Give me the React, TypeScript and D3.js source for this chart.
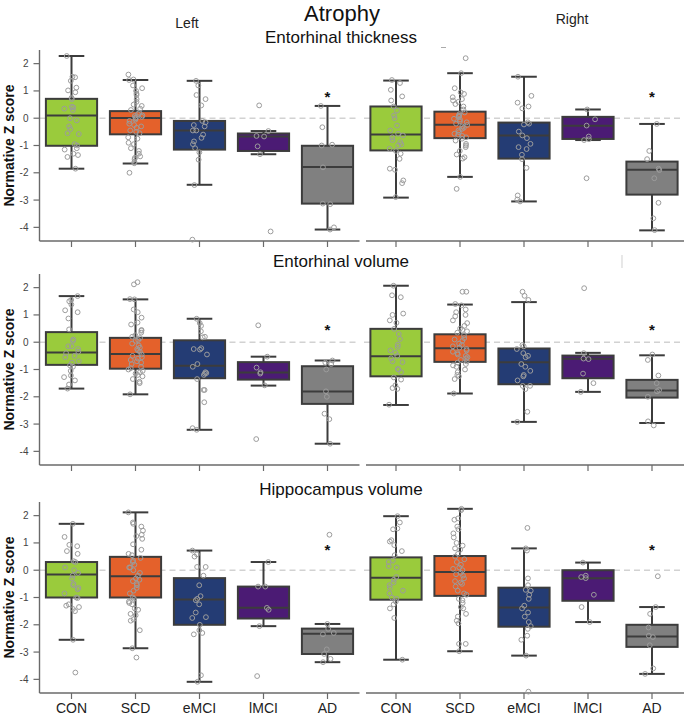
import React from 'react';
import * as d3 from 'd3';

const groups = ['CON', 'SCD', 'eMCI', 'lMCI', 'AD'];
const groupColors = ['#9acb3c', '#e4612b', '#243c74', '#4b1b74', '#808080'];
const yTicks = [-4, -3, -2, -1, 0, 1, 2];
const regionTitles = ['Entorhinal thickness', 'Entorhinal volume', 'Hippocampus volume'];

// box stats per group: [whisker low, q1, median, q3, whisker high]
const thickLeftStats = [
  [-1.85, -1.01, 0.10, 0.71, 2.28],
  [-1.66, -0.59, 0.01, 0.26, 1.40],
  [-2.44, -1.15, -0.45, -0.10, 1.37],
  [-1.32, -1.20, -0.67, -0.56, -0.47],
  [-4.08, -3.13, -1.79, -1.01, 0.45],
];
const thickRightStats = [
  [-2.91, -1.18, -0.60, 0.43, 1.38],
  [-2.15, -0.73, -0.24, 0.24, 1.65],
  [-3.05, -1.48, -0.63, -0.16, 1.52],
  [-0.80, -0.76, -0.28, 0.05, 0.32],
  [-4.11, -2.80, -1.89, -1.59, -0.21],
];
const volLeftStats = [
  [-1.70, -0.83, -0.38, 0.37, 1.69],
  [-1.91, -0.97, -0.43, 0.16, 1.57],
  [-3.21, -1.32, -0.86, 0.07, 0.86],
  [-1.59, -1.37, -1.11, -0.73, -0.53],
  [-3.72, -2.26, -1.81, -0.88, -0.67],
];
const volRightStats = [
  [-2.30, -1.25, -0.51, 0.49, 2.07],
  [-1.88, -0.72, -0.22, 0.29, 1.38],
  [-2.92, -1.54, -0.73, -0.23, 1.47],
  [-1.82, -1.32, -0.61, -0.49, -0.39],
  [-2.96, -2.03, -1.77, -1.38, -0.48],
];
const hippLeftStats = [
  [-2.55, -1.00, -0.16, 0.30, 1.70],
  [-2.86, -1.00, -0.22, 0.49, 2.12],
  [-4.09, -2.00, -1.07, -0.29, 0.72],
  [-2.05, -1.77, -1.38, -0.60, 0.30],
  [-3.37, -3.07, -2.33, -2.14, -1.97],
];
const hippRightStats = [
  [-3.28, -1.08, -0.28, 0.47, 1.98],
  [-2.97, -0.94, -0.07, 0.52, 2.25],
  [-3.13, -2.07, -1.37, -0.64, 0.80],
  [-1.90, -1.12, -0.29, 0.00, 0.28],
  [-3.80, -2.81, -2.43, -2.00, -1.35],
];

// individual subjects per group
const thickLeftPts = [
  [2.28, 1.50, 1.52, 1.37, 1.02, 1.12, 0.95, 0.75, 0.70, 0.42, 0.35, 0.30, 0.40, 0.00, -0.08, -0.30, -0.40, -0.55, -0.58, -0.95, -1.00, -1.10, -1.15, -1.30, -1.35, -1.42, -1.85],
  [1.60, 1.40, 1.42, 1.20, 1.10, 1.00, 0.85, 0.90, 0.70, 0.60, 0.50, 0.45, 0.35, 0.30, 0.20, 0.15, 0.10, 0.08, 0.05, 0.02, 0.00, -0.05, -0.10, -0.20, -0.25, -0.30, -0.35, -0.45, -0.50, -0.55, -0.70, -0.75, -0.90, -0.95, -1.10, -1.20, -1.30, -1.40, -1.45, -1.50, -1.60, -1.65, -2.00],
  [1.37, 1.20, 0.85, 0.70, 0.47, -0.15, -0.10, -0.25, -0.30, -0.45, -0.45, -0.60, -0.72, -0.85, -0.95, -1.10, -1.25, -1.52, -2.45, -4.45],
  [0.47, -0.47, -0.67, -0.65, -1.03, -1.32, -4.15],
  [0.45, -0.33, -1.00, -0.97, -1.80, -3.13, -3.15, -4.00, -4.08],
];
const thickRightPts = [
  [1.40, 1.29, 1.04, 0.80, 0.65, 0.43, 0.28, 0.10, 0.00, -0.27, -0.45, -0.57, -0.63, -0.70, -0.80, -0.88, -0.96, -1.00, -1.12, -1.20, -1.30, -1.49, -1.85, -1.89, -2.28, -2.38, -2.89],
  [2.20, 1.65, 1.10, 0.95, 0.89, 0.77, 0.70, 0.65, 0.60, 0.52, 0.43, 0.32, 0.21, 0.15, 0.10, 0.08, 0.05, -0.02, -0.05, -0.12, -0.15, -0.20, -0.25, -0.30, -0.35, -0.39, -0.45, -0.51, -0.57, -0.60, -0.65, -0.70, -0.75, -0.82, -0.94, -1.00, -1.06, -1.20, -1.33, -1.43, -1.48, -2.15, -2.59],
  [1.52, 0.82, 0.57, 0.43, 0.36, -0.15, -0.20, -0.23, -0.49, -0.63, -0.73, -0.94, -1.06, -1.13, -1.34, -1.50, -1.82, -2.83, -2.98, -3.05],
  [0.32, -0.04, -0.27, -0.67, -0.77, -0.80, -2.20],
  [-0.21, -1.20, -1.50, -1.85, -1.90, -2.20, -3.10, -3.67, -4.10],
];
const volLeftPts = [
  [1.69, 1.55, 1.50, 1.38, 1.17, 1.10, 0.87, 0.47, 0.10, 0.05, -0.15, -0.15, -0.25, -0.35, -0.40, -0.50, -0.55, -0.70, -0.75, -0.85, -0.90, -1.05, -1.22, -1.28, -1.40, -1.55, -1.70],
  [2.20, 2.12, 1.57, 1.58, 1.20, 1.10, 0.90, 0.72, 0.65, 0.45, 0.42, 0.35, 0.25, 0.20, 0.15, 0.08, 0.05, -0.05, -0.12, -0.20, -0.25, -0.30, -0.35, -0.45, -0.50, -0.55, -0.60, -0.65, -0.70, -0.75, -0.80, -0.90, -0.95, -1.00, -1.05, -1.10, -1.15, -1.20, -1.25, -1.35, -1.45, -1.50, -1.91],
  [0.86, 0.70, 0.60, 0.40, 0.20, 0.18, -0.25, -0.22, -0.27, -0.45, -0.80, -0.90, -1.10, -1.13, -1.15, -1.20, -1.35, -1.75, -1.75, -2.20, -3.15, -3.21],
  [0.62, -0.53, -0.93, -1.10, -1.15, -1.58, -3.55],
  [-0.67, -0.75, -0.80, -1.00, -1.80, -2.00, -2.62, -2.82, -3.72],
];
const volRightPts = [
  [2.07, 1.72, 1.65, 1.05, 1.00, 0.80, 0.71, 0.49, 0.30, 0.12, -0.09, -0.17, -0.30, -0.39, -0.50, -0.59, -0.70, -0.73, -0.98, -1.00, -1.10, -1.29, -1.37, -1.58, -1.68, -1.71, -2.29],
  [1.85, 1.85, 1.40, 1.35, 1.20, 1.10, 1.00, 0.95, 0.80, 0.70, 0.60, 0.50, 0.45, 0.40, 0.35, 0.25, 0.15, 0.10, 0.05, -0.05, -0.10, -0.15, -0.20, -0.25, -0.30, -0.35, -0.40, -0.45, -0.50, -0.55, -0.60, -0.65, -0.70, -0.75, -0.80, -0.85, -0.90, -1.00, -1.10, -1.20, -1.25, -1.35, -1.88],
  [1.85, 1.70, 1.55, -0.10, -0.15, -0.25, -0.40, -0.50, -0.55, -0.80, -0.90, -1.05, -1.20, -1.25, -1.40, -1.60, -1.60, -1.72, -2.55, -2.92],
  [1.98, -0.40, -0.60, -0.62, -1.15, -1.50, -1.82],
  [-0.45, -0.65, -1.22, -1.50, -1.75, -1.80, -2.00, -2.90, -3.05],
];
const hippLeftPts = [
  [1.70, 1.22, 0.93, 0.88, 0.70, 0.60, 0.33, 0.30, 0.10, 0.00, -0.10, -0.20, -0.30, -0.50, -0.55, -0.65, -0.70, -0.85, -1.00, -1.02, -1.25, -1.30, -1.35, -1.42, -1.50, -2.55, -3.75],
  [2.12, 1.75, 1.70, 1.60, 1.45, 1.30, 1.25, 1.15, 0.95, 0.75, 0.60, 0.55, 0.45, 0.35, 0.30, 0.20, 0.10, 0.10, 0.00, -0.10, -0.20, -0.30, -0.35, -0.40, -0.50, -0.55, -0.65, -0.75, -0.85, -1.00, -1.05, -1.15, -1.20, -1.25, -1.45, -1.60, -1.65, -1.80, -1.85, -2.20, -2.86, -3.20, -1.40],
  [0.72, 0.58, 0.50, 0.12, 0.12, -0.20, -0.55, -0.95, -1.05, -1.10, -1.25, -1.55, -1.72, -1.75, -2.00, -2.20, -2.30, -2.35, -3.85, -4.09],
  [0.30, -0.60, -0.60, -1.38, -1.45, -2.05, -3.88],
  [1.30, -1.97, -2.15, -2.30, -2.35, -2.90, -3.07, -3.25, -3.37],
];
const hippRightPts = [
  [1.98, 1.75, 1.53, 1.50, 1.10, 1.05, 0.92, 0.70, 0.55, 0.35, 0.30, 0.15, 0.10, -0.25, -0.35, -0.45, -0.55, -0.65, -0.75, -0.85, -1.00, -1.05, -1.15, -1.25, -1.40, -1.75, -3.28],
  [2.25, 2.20, 1.90, 1.85, 1.60, 1.50, 1.35, 1.20, 1.00, 0.90, 0.80, 0.75, 0.60, 0.50, 0.40, 0.30, 0.20, 0.10, 0.05, 0.00, -0.10, -0.15, -0.20, -0.30, -0.40, -0.45, -0.50, -0.60, -0.75, -0.85, -0.90, -1.05, -1.10, -1.20, -1.35, -1.40, -1.60, -1.70, -1.85, -1.95, -2.70, -2.70, -2.97],
  [1.55, 0.80, 0.72, -0.30, -0.55, -0.72, -0.75, -0.90, -1.05, -1.30, -1.40, -1.55, -1.70, -1.90, -2.05, -2.15, -2.40, -2.55, -3.13, -4.45],
  [0.28, -0.20, -0.25, -0.29, -0.90, -1.35, -1.90],
  [-0.22, -1.35, -1.60, -2.10, -2.40, -2.45, -2.75, -3.60, -3.80],
];

// height of the significance star above AD, per row
const starLevels = [0.9, 0.55, 0.85];

const font = '"Liberation Sans", Arial, sans-serif';
const panelH = 191;
const rowTops = [50, 274, 502];
const leftRange: [number, number] = [39.5, 359.5];
const rightRange: [number, number] = [364, 684];

const jitter = (i: number, k: number) => {
  const s = Math.sin(i * 12.9898 + k * 78.233) * 43758.5453;
  return (s - Math.floor(s) - 0.5) * 15;
};

type PanelProps = {
  range: [number, number];
  top: number;
  stats: number[][];
  pts: number[][];
  star: number;
  showY: boolean;
  showLabels: boolean;
  seed: number;
};

const Panel = ({ range, top, stats, pts, star, showY, showLabels, seed }: PanelProps) => {
  const x = d3.scaleBand().domain(groups).range(range);
  const y = d3.scaleLinear().domain([-4.5, 2.5]).range([top + panelH, top]);
  const bw = x.bandwidth() * 0.8;
  const axisColor = '#6a6a6a';
  const edge = '#3c3c3c';
  return (
    <g>
      <line x1={range[0]} x2={range[1]} y1={y(0)} y2={y(0)} stroke="#d2d2d2" strokeWidth={1.6} strokeDasharray="6,4" />
      {showY && (
        <g>
          <line x1={range[0]} x2={range[0]} y1={top} y2={top + panelH} stroke={axisColor} strokeWidth={1.4} />
          {yTicks.map(t => (
            <g key={t}>
              <line x1={range[0] - 6} x2={range[0]} y1={y(t)} y2={y(t)} stroke={axisColor} strokeWidth={1.2} />
              <text x={range[0] - 11} y={y(t) + 3.5} textAnchor="end" fontSize={10} fill="#444" fontFamily={font}>{t < 0 ? '-' + Math.abs(t) : t}</text>
            </g>
          ))}
        </g>
      )}
      <line x1={showY ? range[0] : range[0] + 2} x2={range[1]} y1={top + panelH} y2={top + panelH} stroke={axisColor} strokeWidth={1.4} />
      {groups.map(g => (
        <line key={g} x1={x(g)! + x.bandwidth() / 2} x2={x(g)! + x.bandwidth() / 2} y1={top + panelH} y2={top + panelH + 6} stroke={axisColor} strokeWidth={1.2} />
      ))}
      {showLabels && groups.map(g => (
        <text key={g} x={x(g)! + x.bandwidth() / 2} y={713} textAnchor="middle" fontSize={14} fill="#222" fontFamily={font}>{g}</text>
      ))}
      {groups.map((g, k) => {
        const [lo, q1, med, q3, hi] = stats[k];
        const cx = x(g)! + x.bandwidth() / 2;
        return (
          <g key={g}>
            <line x1={cx} x2={cx} y1={y(hi)} y2={y(q3)} stroke={edge} strokeWidth={2} />
            <line x1={cx} x2={cx} y1={y(q1)} y2={y(lo)} stroke={edge} strokeWidth={2} />
            <line x1={cx - bw / 4} x2={cx + bw / 4} y1={y(hi)} y2={y(hi)} stroke={edge} strokeWidth={2} />
            <line x1={cx - bw / 4} x2={cx + bw / 4} y1={y(lo)} y2={y(lo)} stroke={edge} strokeWidth={2} />
            <rect x={cx - bw / 2} y={y(q3)} width={bw} height={y(q1) - y(q3)} fill={groupColors[k]} stroke={edge} strokeWidth={2} />
            <line x1={cx - bw / 2} x2={cx + bw / 2} y1={y(med)} y2={y(med)} stroke={edge} strokeWidth={2} />
          </g>
        );
      })}
      {groups.map((g, k) => {
        const cx = x(g)! + x.bandwidth() / 2;
        return pts[k].map((v, i) => (
          <circle key={g + i} cx={cx + jitter(i + seed, k + 1)} cy={y(v)} r={2.4} fill="none" stroke="#9c9c9c" strokeWidth={1} />
        ));
      })}
      <text x={x('AD')! + x.bandwidth() / 2} y={y(star) + 8} textAnchor="middle" fontSize={15} fontWeight="bold" fill="#111" fontFamily={font}>*</text>
    </g>
  );
};

const rows = [
  [thickLeftStats, thickLeftPts, thickRightStats, thickRightPts],
  [volLeftStats, volLeftPts, volRightStats, volRightPts],
  [hippLeftStats, hippLeftPts, hippRightStats, hippRightPts],
];

const App = () => {
  return (
    <svg width={685} height={715} style={{ position: 'absolute', left: 0, top: 0, background: '#fff' }}>
      <rect width={685} height={715} fill="#fff" />
      <text x={342} y={21} textAnchor="middle" fontSize={22} fill="#111" fontFamily={font}>Atrophy</text>
      <text x={187} y={28} textAnchor="middle" fontSize={14} fill="#222" fontFamily={font}>Left</text>
      <text x={572} y={24} textAnchor="middle" fontSize={14} fill="#222" fontFamily={font}>Right</text>
      {/* stray marks left over in the source figure */}
      <line x1={441} x2={446} y1={47.5} y2={47.5} stroke="#aaa" strokeWidth={1} />
      <line x1={622} x2={622} y1={255} y2={268} stroke="#d8d8d8" strokeWidth={1.2} />
      {rows.map((r, i) => (
        <g key={i}>
          <text x={341} y={rowTops[i] - 7} textAnchor="middle" fontSize={17} fill="#111" fontFamily={font}>{regionTitles[i]}</text>
          <text transform={`translate(14,${rowTops[i] + panelH / 2}) rotate(-90)`} textAnchor="middle" fontSize={14} fontWeight="bold" fill="#111" fontFamily={font}>Normative Z score</text>
          <Panel range={leftRange} top={rowTops[i]} stats={r[0]} pts={r[1]} star={starLevels[i]} showY={true} showLabels={i === 2} seed={i * 50} />
          <Panel range={rightRange} top={rowTops[i]} stats={r[2]} pts={r[3]} star={starLevels[i]} showY={false} showLabels={i === 2} seed={i * 50 + 25} />
        </g>
      ))}
    </svg>
  );
};

export default App;
